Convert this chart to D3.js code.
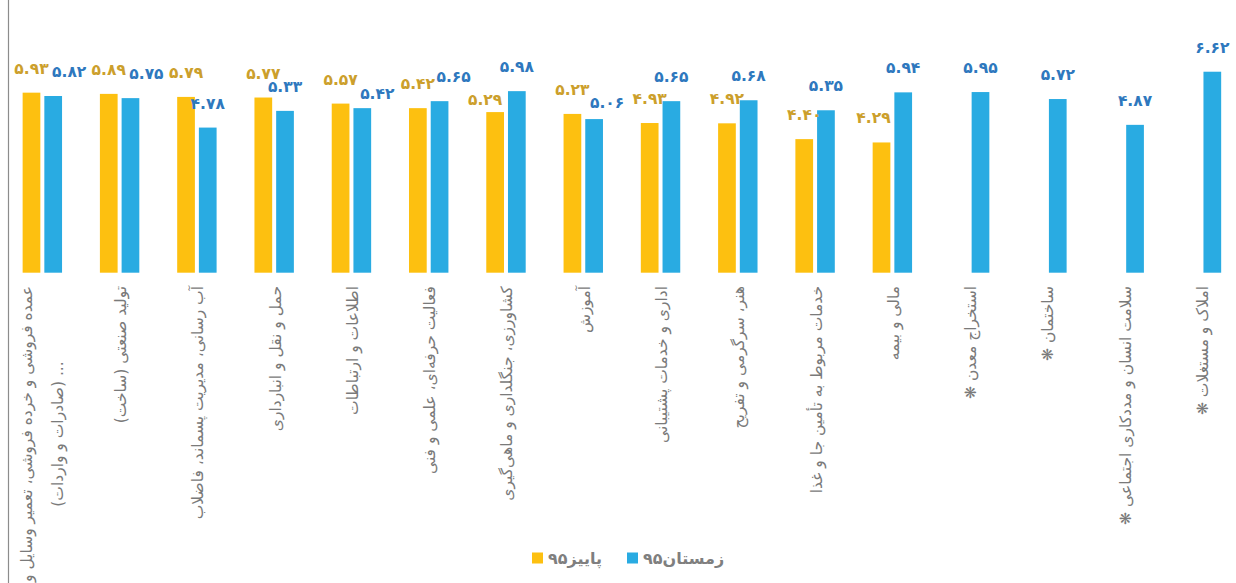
<!DOCTYPE html>
<html>
<head>
<meta charset="utf-8">
<script src="https://cdn.jsdelivr.net/npm/d3@7"></script>
<style>
  body { margin: 0; background: #fff; }
  svg { display: block; }
</style>
</head>
<body>
<div id="chart"></div>
<script>

// chart data
var categories = [
  "عمده فروشی و خرده فروشی، تعمیر وسایل و\n... (صادرات و واردات)",
  "تولید صنعتی (ساخت)",
  "آب رسانی، مدیریت پسماند، فاضلاب",
  "حمل و نقل و انبارداری",
  "اطلاعات و ارتباطات",
  "فعالیت حرفه‌ای، علمی و فنی",
  "کشاورزی، جنگلداری و ماهی‌گیری",
  "آموزش",
  "اداری و خدمات پشتیبانی",
  "هنر، سرگرمی و تفریح",
  "خدمات مربوط به تأمین جا و غذا",
  "مالی و بیمه",
  "استخراج معدن ❋",
  "ساختمان ❋",
  "سلامت انسان و مددکاری اجتماعی ❋",
  "املاک و مستغلات ❋"
];
var autumn = [5.93, 5.89, 5.79, 5.77, 5.57, 5.42, 5.29, 5.23, 4.93, 4.92, 4.40, 4.29, null, null, null, null];
var winter = [5.82, 5.75, 4.78, 5.33, 5.42, 5.65, 5.98, 5.06, 5.65, 5.68, 5.35, 5.94, 5.95, 5.72, 4.87, 6.62];
var seriesNames = ["پاییز۹۵", "زمستان۹۵"];

// styling
var barColors = ["#FDC010", "#29ABE2"];
var labelColors = ["#CC9F2C", "#2E78BE"];
var width = 1236, height = 583;

// a few value labels were moved by hand in the original
var labelNudge = {
  "1-0": [16, 0], "1-1": [16, 0], "1-4": [15, 10], "1-5": [14, 0], "1-7": [13, 8],
  "0-6": [-10, 12], "0-11": [-8, 0]
};

function toPersian(str) {
  return String(str).replace(/[0-9]/g, function(c) { return "۰۱۲۳۴۵۶۷۸۹"[+c]; });
}

var svg = d3.select("#chart").append("svg")
  .attr("width", width)
  .attr("height", height);

// left frame line
svg.append("line")
  .attr("x1", 8.5).attr("x2", 8.5)
  .attr("y1", 0).attr("y2", height)
  .attr("stroke", "#8c8c8c")
  .attr("stroke-width", 1.2);

// scales
var x0 = d3.scaleBand()
  .domain(d3.range(categories.length))
  .range([3.7, 1240.1]);

var x1 = d3.scaleBand()
  .domain([0, 1])
  .range([0, x0.bandwidth()])
  .paddingInner(0.184)
  .paddingOuter(0.872);

var y = d3.scaleLinear()
  .domain([0, 7])
  .range([272.7, 272.7 - 7 * 30.36]);

// flatten into bar records
var bars = [];
[autumn, winter].forEach(function(values, s) {
  values.forEach(function(v, i) {
    if (v != null) bars.push({s: s, i: i, v: v});
  });
});

svg.selectAll(".bar")
  .data(bars)
  .enter().append("rect")
  .attr("class", "bar")
  .attr("x", function(d) { return x0(d.i) + x1(d.s); })
  .attr("y", function(d) { return y(d.v); })
  .attr("width", x1.bandwidth())
  .attr("height", function(d) { return y(0) - y(d.v); })
  .attr("fill", function(d) { return barColors[d.s]; });

// value labels
svg.selectAll(".val")
  .data(bars)
  .enter().append("text")
  .attr("class", "val")
  .attr("x", function(d) {
    var n = labelNudge[d.s + "-" + d.i] || [0, 0];
    return x0(d.i) + x1(d.s) + x1.bandwidth() / 2 + n[0];
  })
  .attr("y", function(d) {
    var n = labelNudge[d.s + "-" + d.i] || [0, 0];
    return y(d.v) - 24 + n[1];
  })
  .attr("text-anchor", "middle")
  .attr("dominant-baseline", "central")
  .attr("font-family", "DejaVu Sans")
  .attr("font-weight", "bold")
  .attr("font-size", 15.5)
  .attr("fill", function(d) { return labelColors[d.s]; })
  .text(function(d) { return toPersian(d.v.toFixed(2)); });

// category labels, rotated, top aligned, lines centred in the block
var labelTop = 286;
categories.forEach(function(name, i) {
  var lines = name.split("\n");
  var cx = x0(i) + x0.bandwidth() / 2;
  var g = svg.append("g")
    .attr("transform", "translate(" + cx + "," + labelTop + ") rotate(-90)");
  var texts = lines.map(function(line, k) {
    var off = lines.length === 1 ? 1.5 : (k - (lines.length - 1) / 2) * 31;
    return g.append("text")
      .attr("y", off)
      .attr("direction", "rtl")
      .attr("text-anchor", "middle")
      .attr("dominant-baseline", "central")
      .attr("font-family", "DejaVu Sans")
      .attr("font-size", 15.5)
      .attr("fill", "#7a7a7a")
      .text(line);
  });
  var maxLen = d3.max(texts, function(t) { return t.node().getComputedTextLength(); });
  texts.forEach(function(t) { t.attr("x", -maxLen / 2); });
});

// legend
var legend = svg.append("g").attr("transform", "translate(0,558)");
var legendX = [532, 627];
seriesNames.forEach(function(name, s) {
  legend.append("rect")
    .attr("x", legendX[s]).attr("y", -5.5)
    .attr("width", 11).attr("height", 11)
    .attr("fill", barColors[s]);
  legend.append("text")
    .attr("x", legendX[s] + 16)
    .attr("y", 0)
    .attr("direction", "rtl")
    .attr("text-anchor", "end")
    .attr("dominant-baseline", "central")
    .attr("font-family", "DejaVu Sans")
    .attr("font-weight", "bold")
    .attr("font-size", 16)
    .attr("fill", "#7f7f7f")
    .text(name);
});

</script>
</body>
</html>
